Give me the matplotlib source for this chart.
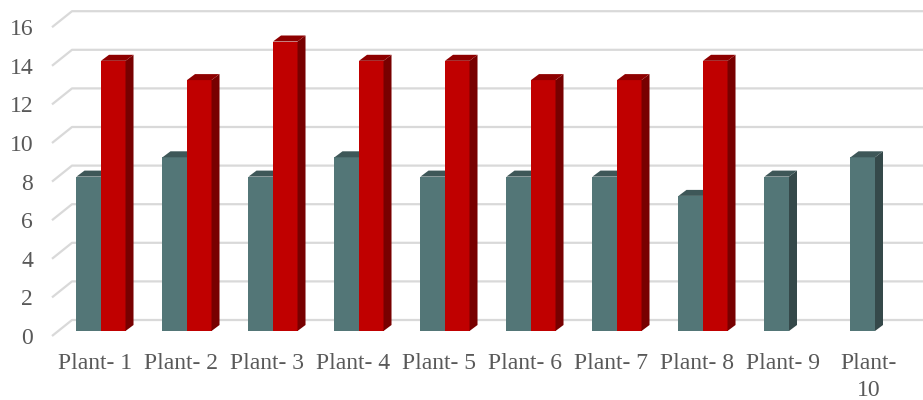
import matplotlib
matplotlib.use('Agg')

import numpy as np
import matplotlib.pyplot as plt
from matplotlib.patches import Polygon

plt.rcParams['font.family'] = ['Liberation Serif', 'DejaVu Serif']

# plant data, two series per plant (no second value for plants 9 and 10)
plants = ['Plant- 1', 'Plant- 2', 'Plant- 3', 'Plant- 4', 'Plant- 5',
          'Plant- 6', 'Plant- 7', 'Plant- 8', 'Plant- 9', 'Plant-\n10']
series_a = [8, 9, 8, 9, 8, 8, 8, 7, 8, 9]
series_b = [14, 13, 15, 14, 14, 13, 13, 14, np.nan, np.nan]
yticks = [0, 2, 4, 6, 8, 10, 12, 14, 16]

# face colours: front, side, top
col_a = ('#537677', '#35494a', '#3e5758')
col_b = ('#c00000', '#780000', '#8e0000')
grid_col = '#d9d9d9'
text_col = '#595959'

W, H = 923, 400
fig = plt.figure(figsize=(W / 100, H / 100), dpi=100)
ax = fig.add_axes([52 / W, 64 / H, 860 / W, 308.8 / H])
ax.set_xlim(-0.5, 9.5)
ax.set_ylim(0, 16)

# pixels per data unit, used to fake the 3d depth
p0 = ax.transData.transform((0, 0))
p1 = ax.transData.transform((1, 1))
sx, sy = p1 - p0


def shift(px, py):
    return px / sx, py / sy


# back wall gridlines plus the short diagonals on the left side
bx, by = shift(20, 16)
for v in yticks:
    ax.plot([-0.5, -0.5 + bx, 9.5 + 2 * bx], [v, v + by, v + by],
            color=grid_col, lw=1.6, clip_on=False, zorder=0,
            solid_capstyle='butt')

bw = 0.285
ox, oy = shift(6, 5)
dx, dy = shift(8, 6)


def bars3d(xs, hs, cols):
    xs = np.asarray(xs, dtype=float)
    hs = np.asarray(hs, dtype=float)
    ok = ~np.isnan(hs)
    ax.bar(xs[ok] + ox, hs[ok], bw, bottom=oy, color=cols[0],
           linewidth=0, clip_on=False, zorder=2)
    for x, h in zip(xs[ok], hs[ok]):
        x0 = x + ox - bw / 2
        x1 = x + ox + bw / 2
        y1 = h + oy
        ax.add_patch(Polygon([(x1, oy), (x1, y1), (x1 + dx, y1 + dy), (x1 + dx, oy + dy)],
                             closed=True, fc=cols[1], ec='none', clip_on=False, zorder=2))
        ax.add_patch(Polygon([(x0, y1), (x1, y1), (x1 + dx, y1 + dy), (x0 + dx, y1 + dy)],
                             closed=True, fc=cols[2], ec='none', clip_on=False, zorder=2))


idx = np.arange(len(plants))
bars3d(idx - bw / 2, series_a, col_a)
bars3d(idx + bw / 2, series_b, col_b)

ax.set_yticks(yticks)
ax.set_yticklabels([str(v) for v in yticks])
ax.set_xticks(idx)
ax.set_xticklabels(plants, linespacing=1.4)
ax.tick_params(axis='y', length=0, pad=13.5, labelsize=17, labelcolor=text_col)
ax.tick_params(axis='x', length=0, pad=12, labelsize=17, labelcolor=text_col)
for s in ax.spines.values():
    s.set_visible(False)
ax.patch.set_visible(False)

fig.savefig('out.png', dpi=100)
